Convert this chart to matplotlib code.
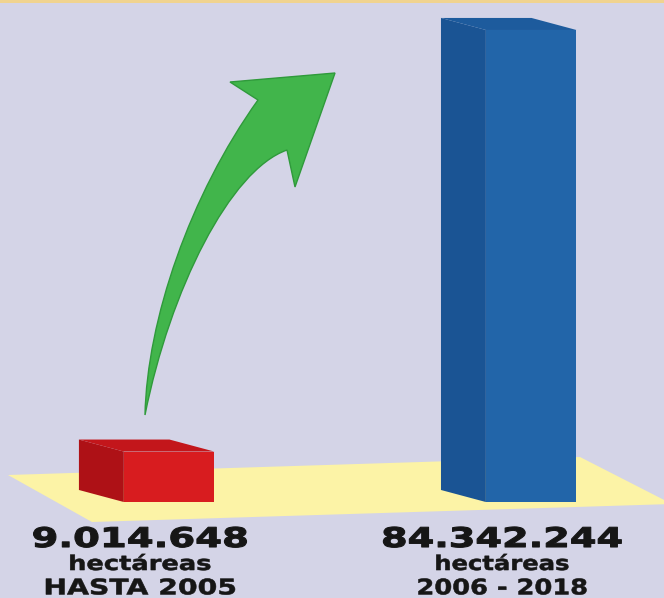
import matplotlib
matplotlib.use("Agg")
import matplotlib.pyplot as plt
import matplotlib.patheffects as pe
from matplotlib.patches import Polygon, PathPatch, Rectangle
from matplotlib.path import Path
from matplotlib.transforms import Affine2D, blended_transform_factory

# data
periods = ["HASTA 2005", "2006 - 2018"]
hectares = [9014648, 84342244]
value_labels = ["9.014.648", "84.342.244"]
unit_label = "hectáreas"

# style
W, H = 664, 598
BG = "#d4d4e7"
FLOOR = "#fcf3a6"
FRONT = ["#d81c1f", "#2265a9"]
SIDE = ["#ae1116", "#1a5494"]
TOP = ["#c3161b", "#1d5b9d"]
BAR_W = 0.25
DEPTH_X, DEPTH_Y = -0.124, 2.15e6
TEXT = "#161616"


class Stretch(pe.AbstractPathEffect):
    """Widen a text path about its centre so its ink is `width` px wide."""

    def __init__(self, width, stroke=0.0):
        super().__init__()
        self.width = width
        self.stroke = stroke

    def draw_path(self, renderer, gc, tpath, affine, rgbFace=None):
        bb = tpath.get_extents(affine)
        cx = (bb.x0 + bb.x1) / 2
        sx = self.width / bb.width
        affine = affine + Affine2D().translate(-cx, 0).scale(sx, 1).translate(cx, 0)
        gc0 = renderer.new_gc()
        gc0.copy_properties(gc)
        if self.stroke:
            gc0.set_linewidth(self.stroke)
            gc0.set_foreground(rgbFace)
        renderer.draw_path(gc0, tpath, affine, rgbFace)
        gc0.restore()


fig = plt.figure(figsize=(W / 100, H / 100), dpi=100)
fig.patch.set_facecolor(BG)
ax = fig.add_axes([0, 0, 1, 1])
ax.set_facecolor("none")
ax.axis("off")
ax.set_xlim(-0.467, 1.367)
ax.set_ylim(-17.15e6, 89.7e6)

# pixel coords measured from the top-left corner, for the decoration
px = Affine2D().scale(1 / W, -1 / H).translate(0, 1) + fig.transFigure

fig.patches.append(Rectangle((0, 0), W, 3, transform=px, fc="#f0d38f", ec="none"))

# yellow floor
ax.add_patch(Polygon([(8, 475), (580, 457), (672, 504), (92, 522)], closed=True,
                     transform=px, fc=FLOOR, ec="none", zorder=1, clip_on=False))

# bars: front faces via ax.bar, side and top faces as oblique polygons
xs = list(range(len(hectares)))
ax.bar(xs, hectares, width=BAR_W, color=FRONT, zorder=3)
for i, h in zip(xs, hectares):
    x0, x1 = i - BAR_W / 2, i + BAR_W / 2
    ax.add_patch(Polygon([(x0, 0), (x0 + DEPTH_X, DEPTH_Y), (x0 + DEPTH_X, h + DEPTH_Y), (x0, h)],
                         fc=SIDE[i], ec="none", zorder=3))
    ax.add_patch(Polygon([(x0, h), (x0 + DEPTH_X, h + DEPTH_Y), (x1 + DEPTH_X, h + DEPTH_Y), (x1, h)],
                         fc=TOP[i], ec="none", zorder=3))

# green curved arrow
M, C, L = Path.MOVETO, Path.CURVE4, Path.LINETO
verts = [(145, 415),
         (147, 320), (190, 195), (258, 100),
         (230, 82), (335, 73), (295, 187), (287, 150),
         (230, 170), (170, 290), (145, 415),
         (145, 415)]
codes = [M, C, C, C, L, L, L, L, C, C, C, Path.CLOSEPOLY]
ax.add_patch(PathPatch(Path(verts, codes), transform=px, fc="#41b54b", ec="#2f9a3b",
                       lw=1.0, zorder=2, clip_on=False))

# labels under the bars
tr = blended_transform_factory(ax.transData, ax.transAxes)
num_w = [213, 238]
unit_w = [140, 132]
per_w = [189, 168]
for i in xs:
    lx = i - 0.08
    ax.text(lx, 0.0853, value_labels[i], transform=tr, ha="center", va="baseline",
            fontsize=19.5, fontweight="bold", color=TEXT, zorder=4,
            path_effects=[Stretch(num_w[i], stroke=0.8)])
    ax.text(lx, 0.0468, unit_label, transform=tr, ha="center", va="baseline",
            fontsize=14.5, fontweight="bold", color=TEXT, zorder=4,
            path_effects=[Stretch(unit_w[i], stroke=0.4)])
    ax.text(lx, 0.006, periods[i], transform=tr, ha="center", va="baseline",
            fontsize=15.5, fontweight="bold", color=TEXT, zorder=4,
            path_effects=[Stretch(per_w[i], stroke=0.4)])

fig.savefig("out.png", dpi=100, facecolor=BG)
